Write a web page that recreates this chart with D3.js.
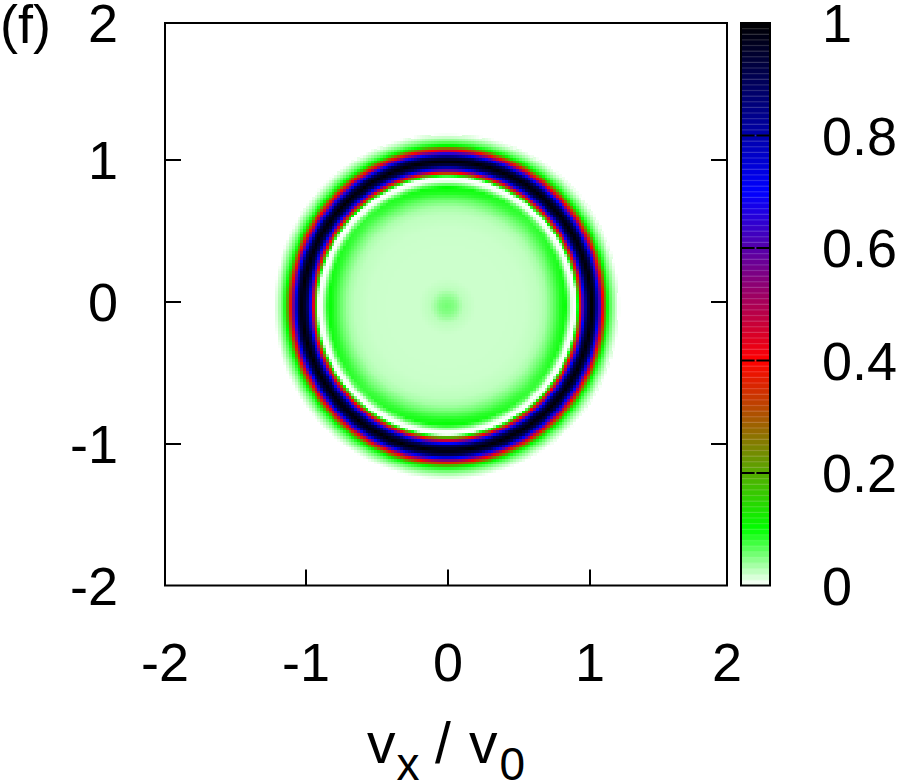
<!DOCTYPE html>
<html>
<head>
<meta charset="utf-8">
<script src="https://cdn.jsdelivr.net/npm/d3@7"></script>
<style>
    body { margin: 0; background: #fff; }
    svg { display: block; }
    text { font-family: "Liberation Sans", sans-serif; fill: #000; }
</style>
</head>
<body>
<script>
'use strict';

// radial profile of the map (radius in v / v0)
const profileRadius = [0, 0.05, 0.12, 0.2, 0.4, 0.55, 0.65, 0.7, 0.75, 0.8, 0.835, 0.86, 0.875, 0.885, 0.895, 0.905, 0.918, 0.94, 0.965, 0.985, 1.018, 1.05, 1.07, 1.1, 1.135, 1.16, 1.19, 1.22];
const profileValue = [0.055, 0.048, 0.026, 0.02, 0.02, 0.021, 0.026, 0.036, 0.06, 0.09, 0.1, 0.05, 0.012, 0.002, 0, 0.006, 0.1, 0.4, 0.7, 0.9, 1, 0.9, 0.7, 0.4, 0.1, 0.06, 0.025, 0];

// strength of the inner green band around the ring, by angle in degrees
const bandAngle = [0, 45, 90, 135, 180];
const bandStrength = [1, 0.75, 1, 0.75, 1];

const ringCentreX = -0.007;
const ringCentreY = -0.025;

const paletteStops = [0, 0.1, 0.4, 0.7, 1];
const paletteColors = ['#ffffff', '#00ff00', '#ff0000', '#0000ff', '#000000'];

const tickValues = [-2, -1, 0, 1, 2];
const colorTickValues = [0, 0.2, 0.4, 0.6, 0.8, 1];
const colorLevels = 100;
const gridStep = 0.02;

const measurements = { width: 900, height: 782 };

const svg = d3.select('body')
    .append('svg')
    .attr('width', measurements.width)
    .attr('height', measurements.height);

// tick spacing in the picture is not quite even, so the scales are piecewise
const xScale = d3.scaleLinear().domain(tickValues).range([165, 306, 448, 590, 727]);
const yScale = d3.scaleLinear().domain(tickValues).range([585.5, 444, 302, 160, 23]);
const colorY = d3.scaleLinear().domain([0, 1]).range([585.5, 23]);
const color = d3.scaleLinear().domain(paletteStops).range(paletteColors).interpolate(d3.interpolateRgb);
const profile = d3.scaleLinear().domain(profileRadius).range(profileValue).clamp(true);
const band = d3.scaleLinear().domain(bandAngle).range(bandStrength);

// build the cells of the map
const cells = [];
const steps = d3.range(-100, 100).map((i) => i * gridStep);
steps.forEach((vx) => {
    steps.forEach((vy) => {
        const dx = vx + gridStep / 2 - ringCentreX;
        const dy = vy + gridStep / 2 - ringCentreY;
        const r = Math.sqrt(dx * dx + dy * dy);
        if (r >= 1.22) return;
        let value = profile(r);
        if (r < 0.85 && r > 0.2) {
            const angle = Math.abs(Math.atan2(dy, dx)) * 180 / Math.PI;
            value = 0.02 + (value - 0.02) * band(angle);
        }
        cells.push({ vx: vx, vy: vy, value: value });
    });
});

svg.append('g')
    .attr('id', 'map')
    .attr('shape-rendering', 'crispEdges')
    .selectAll('rect')
    .data(cells)
    .enter()
    .append('rect')
    .attr('x', (d) => xScale(d.vx))
    .attr('y', (d) => yScale(d.vy + gridStep))
    .attr('width', (d) => xScale(d.vx + gridStep) - xScale(d.vx) + 0.6)
    .attr('height', (d) => yScale(d.vy) - yScale(d.vy + gridStep) + 0.6)
    .attr('fill', (d) => color(d.value));

// frame and ticks
const frame = svg.append('g').attr('id', 'frame');

frame.append('rect')
    .attr('x', xScale(-2))
    .attr('y', yScale(2))
    .attr('width', xScale(2) - xScale(-2))
    .attr('height', yScale(-2) - yScale(2))
    .attr('fill', 'none')
    .attr('stroke', '#000')
    .attr('stroke-width', 2);

const innerTicks = tickValues.slice(1, -1);

innerTicks.forEach((t) => {
    frame.append('line')
        .attr('x1', xScale(t)).attr('x2', xScale(t))
        .attr('y1', yScale(-2)).attr('y2', yScale(-2) - 16)
        .attr('stroke', '#000').attr('stroke-width', 2);
    frame.append('line')
        .attr('x1', xScale(-2)).attr('x2', xScale(-2) + 16)
        .attr('y1', yScale(t)).attr('y2', yScale(t))
        .attr('stroke', '#000').attr('stroke-width', 2);
    frame.append('line')
        .attr('x1', xScale(2) - 16).attr('x2', xScale(2))
        .attr('y1', yScale(t)).attr('y2', yScale(t))
        .attr('stroke', '#000').attr('stroke-width', 2);
});

// tick labels
const fontSize = 54;

svg.append('g').selectAll('text')
    .data(tickValues)
    .enter()
    .append('text')
    .attr('x', (d) => xScale(d))
    .attr('y', 681)
    .attr('text-anchor', 'middle')
    .style('font-size', fontSize + 'px')
    .text((d) => d);

svg.append('g').selectAll('text')
    .data(tickValues)
    .enter()
    .append('text')
    .attr('x', 118)
    .attr('y', (d) => yScale(d) + 19)
    .attr('text-anchor', 'end')
    .style('font-size', fontSize + 'px')
    .text((d) => d);

svg.append('text')
    .attr('x', 0)
    .attr('y', 43)
    .style('font-size', fontSize + 'px')
    .text('(f)');

// axis label with subscripts
const xLabel = svg.append('text')
    .attr('x', 367)
    .attr('y', 763)
    .style('font-size', '57px');
xLabel.append('tspan').text('v');
xLabel.append('tspan').attr('dy', 17).attr('dx', 1).style('font-size', '46px').text('x');
xLabel.append('tspan').attr('dy', -17).attr('x', 435).text('/');
xLabel.append('tspan').attr('x', 469).text('v');
xLabel.append('tspan').attr('dy', 17).attr('dx', 2).style('font-size', '46px').text('0');

// colour bar: one stripe per palette level, with the faint seams of the original
const colorBar = svg.append('g').attr('id', 'colorbar');
const barX = d3.scaleLinear().domain([0, 1]).range([741, 770]);
const levels = d3.range(colorLevels);

colorBar.selectAll('rect.level')
    .data(levels)
    .enter()
    .append('rect')
    .attr('class', 'level')
    .attr('x', barX(0))
    .attr('y', (d) => colorY((d + 1) / colorLevels))
    .attr('width', barX(1) - barX(0))
    .attr('height', colorY(0) - colorY(1 / colorLevels) + 0.5)
    .attr('fill', (d) => color((d + 0.5) / colorLevels));

colorBar.selectAll('rect.seam')
    .data(levels.slice(1))
    .enter()
    .append('rect')
    .attr('class', 'seam')
    .attr('x', barX(0))
    .attr('y', (d) => colorY(d / colorLevels) - 0.6)
    .attr('width', barX(1) - barX(0))
    .attr('height', 1.2)
    .attr('fill', '#fff')
    .attr('opacity', 0.16);

colorBar.append('rect')
    .attr('x', barX(0))
    .attr('y', colorY(1))
    .attr('width', barX(1) - barX(0))
    .attr('height', colorY(0) - colorY(1))
    .attr('fill', 'none')
    .attr('stroke', '#000')
    .attr('stroke-width', 2);

colorTickValues.slice(1, -1).forEach((t) => {
    colorBar.append('line')
        .attr('x1', barX(0)).attr('x2', barX(0.47))
        .attr('y1', colorY(t)).attr('y2', colorY(t))
        .attr('stroke', '#000').attr('stroke-width', 2);
    colorBar.append('line')
        .attr('x1', barX(0.53)).attr('x2', barX(1))
        .attr('y1', colorY(t)).attr('y2', colorY(t))
        .attr('stroke', '#000').attr('stroke-width', 2);
});

svg.append('g').selectAll('text')
    .data(colorTickValues)
    .enter()
    .append('text')
    .attr('x', 822)
    .attr('y', (d) => colorY(d) + 19)
    .style('font-size', fontSize + 'px')
    .text((d) => d);
</script>
</body>
</html>
